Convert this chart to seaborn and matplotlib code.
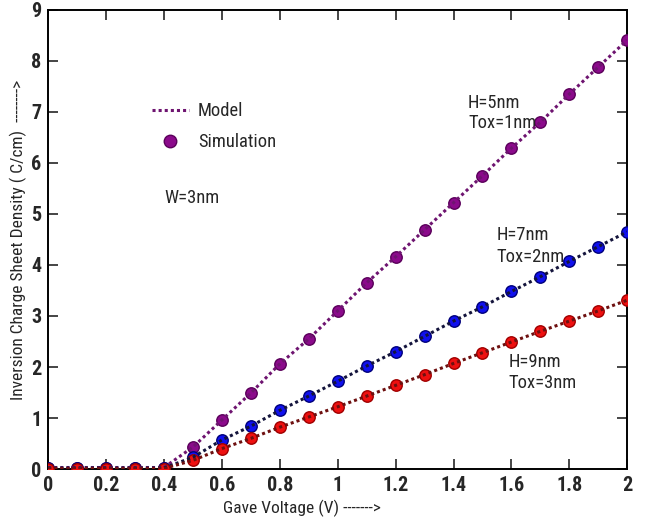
import matplotlib
matplotlib.use("Agg")
import logging
import matplotlib.pyplot as plt
import seaborn as sns
import pandas as pd
from matplotlib.lines import Line2D
from matplotlib import font_manager

logging.getLogger("matplotlib.font_manager").setLevel(logging.ERROR)

# Gate voltage sweep (V)
gate_voltage = [0.0, 0.1, 0.2, 0.3, 0.4, 0.5, 0.6, 0.7, 0.8, 0.9, 1.0,
                1.1, 1.2, 1.3, 1.4, 1.5, 1.6, 1.7, 1.8, 1.9, 2.0]

# Inversion charge sheet density for each device geometry
charge_h5_tox1 = [0.03, 0.03, 0.03, 0.03, 0.03, 0.43, 0.96, 1.49, 2.06, 2.55, 3.10,
                  3.65, 4.16, 4.69, 5.22, 5.75, 6.29, 6.80, 7.35, 7.88, 8.41]
charge_h7_tox2 = [0.02, 0.02, 0.02, 0.02, 0.02, 0.23, 0.57, 0.84, 1.15, 1.43, 1.72,
                  2.02, 2.30, 2.60, 2.90, 3.18, 3.48, 3.77, 4.07, 4.36, 4.65]
charge_h9_tox3 = [0.01, 0.01, 0.01, 0.01, 0.01, 0.17, 0.40, 0.60, 0.82, 1.02, 1.22,
                  1.43, 1.64, 1.85, 2.07, 2.28, 2.49, 2.70, 2.90, 3.10, 3.31]

series_names = ["H=5nm, Tox=1nm", "H=7nm, Tox=2nm", "H=9nm, Tox=3nm"]
line_colors = ["#6e1470", "#14143c", "#6e1010"]
marker_faces = ["#8b0a8b", "#1010ee", "#ee1010"]
marker_edges = ["#5a005a", "#00007a", "#a00000"]

x_ticks = [0, 0.2, 0.4, 0.6, 0.8, 1, 1.2, 1.4, 1.6, 1.8, 2]
x_tick_labels = ["0", "0.2", "0.4", "0.6", "0.8", "1", "1.2", "1.4", "1.6", "1.8", "2"]
y_ticks = [0, 1, 2, 3, 4, 5, 6, 7, 8, 9]

sns.set_style("ticks")

# Prefer a narrow sans face when one is available
available = {f.name for f in font_manager.fontManager.ttflist}
narrow = [n for n in ["Liberation Sans Narrow", "Arial Narrow", "Roboto Condensed",
                      "Open Sans Condensed", "PT Sans Narrow", "Archivo Narrow"]
          if n in available]
is_narrow = bool(narrow)
plt.rcParams["font.family"] = narrow + ["Liberation Sans", "DejaVu Sans"]
scale = 1.0 if is_narrow else 0.85

frames = []
for name, vals in zip(series_names, [charge_h5_tox1, charge_h7_tox2, charge_h9_tox3]):
    frames.append(pd.DataFrame({"V": gate_voltage, "Q": vals, "device": name}))
df = pd.concat(frames, ignore_index=True)

fig = plt.figure(figsize=(6.5, 5.2), dpi=100)
ax = fig.add_axes([0.074, 0.098, 0.891, 0.883])

# Simulation points first, model dotted lines over them
for name, face, edge in zip(series_names, marker_faces, marker_edges):
    sub = df[df["device"] == name]
    sns.scatterplot(data=sub, x="V", y="Q", ax=ax, s=68, color=face,
                    edgecolor=edge, linewidth=1.0, zorder=3, legend=False)
for name, lc in zip(series_names, line_colors):
    sub = df[df["device"] == name]
    sns.lineplot(data=sub, x="V", y="Q", ax=ax, color=lc, linestyle=(0, (1, 1)),
                 linewidth=2.2, zorder=4, legend=False, estimator=None)

ax.set_xlim(0, 2)
ax.set_ylim(0, 9)
ax.set_xticks(x_ticks)
ax.set_xticklabels(x_tick_labels)
ax.set_yticks(y_ticks)
ax.tick_params(direction="in", length=7, width=1.2, top=True, right=True,
               labelsize=14.5 * scale, pad=5)
for lab in ax.get_xticklabels() + ax.get_yticklabels():
    lab.set_fontweight("bold")
for sp in ax.spines.values():
    sp.set_linewidth(1.4)
    sp.set_color("black")

fs = 13.3 * scale
ax.set_xlabel("Gave Voltage (V) ------->", fontsize=12.5 * scale)
ax.set_ylabel("Inversion Charge Sheet Density ( C/cm)  -------->",
              fontsize=12.5 * scale)
ax.xaxis.set_label_coords(0.439, -0.066)
ax.yaxis.set_label_coords(-0.036, 0.5)

# Device annotations
ax.text(0.40, 5.31, "W=3nm", fontsize=fs, va="center")
ax.text(1.45, 7.18, "H=5nm", fontsize=fs, va="center")
ax.text(1.45, 6.78, "Tox=1nm", fontsize=fs, va="center")
ax.text(1.55, 4.59, "H=7nm", fontsize=fs, va="center")
ax.text(1.55, 4.16, "Tox=2nm", fontsize=fs, va="center")
ax.text(1.59, 2.10, "H=9nm", fontsize=fs, va="center")
ax.text(1.59, 1.69, "Tox=3nm", fontsize=fs, va="center")

handles = [
    Line2D([], [], color=line_colors[0], linestyle=(0, (1, 1)), linewidth=2.2),
    Line2D([], [], color=marker_faces[0], marker="o", markersize=9,
           markeredgecolor=marker_edges[0], linestyle="none"),
]
ax.legend(handles, ["Model", "Simulation"], loc="upper left",
          bbox_to_anchor=(0.15, 0.835), frameon=False, fontsize=fs,
          handlelength=2.0, handletextpad=0.5, labelspacing=0.7)

fig.savefig("out.png", dpi=100)
